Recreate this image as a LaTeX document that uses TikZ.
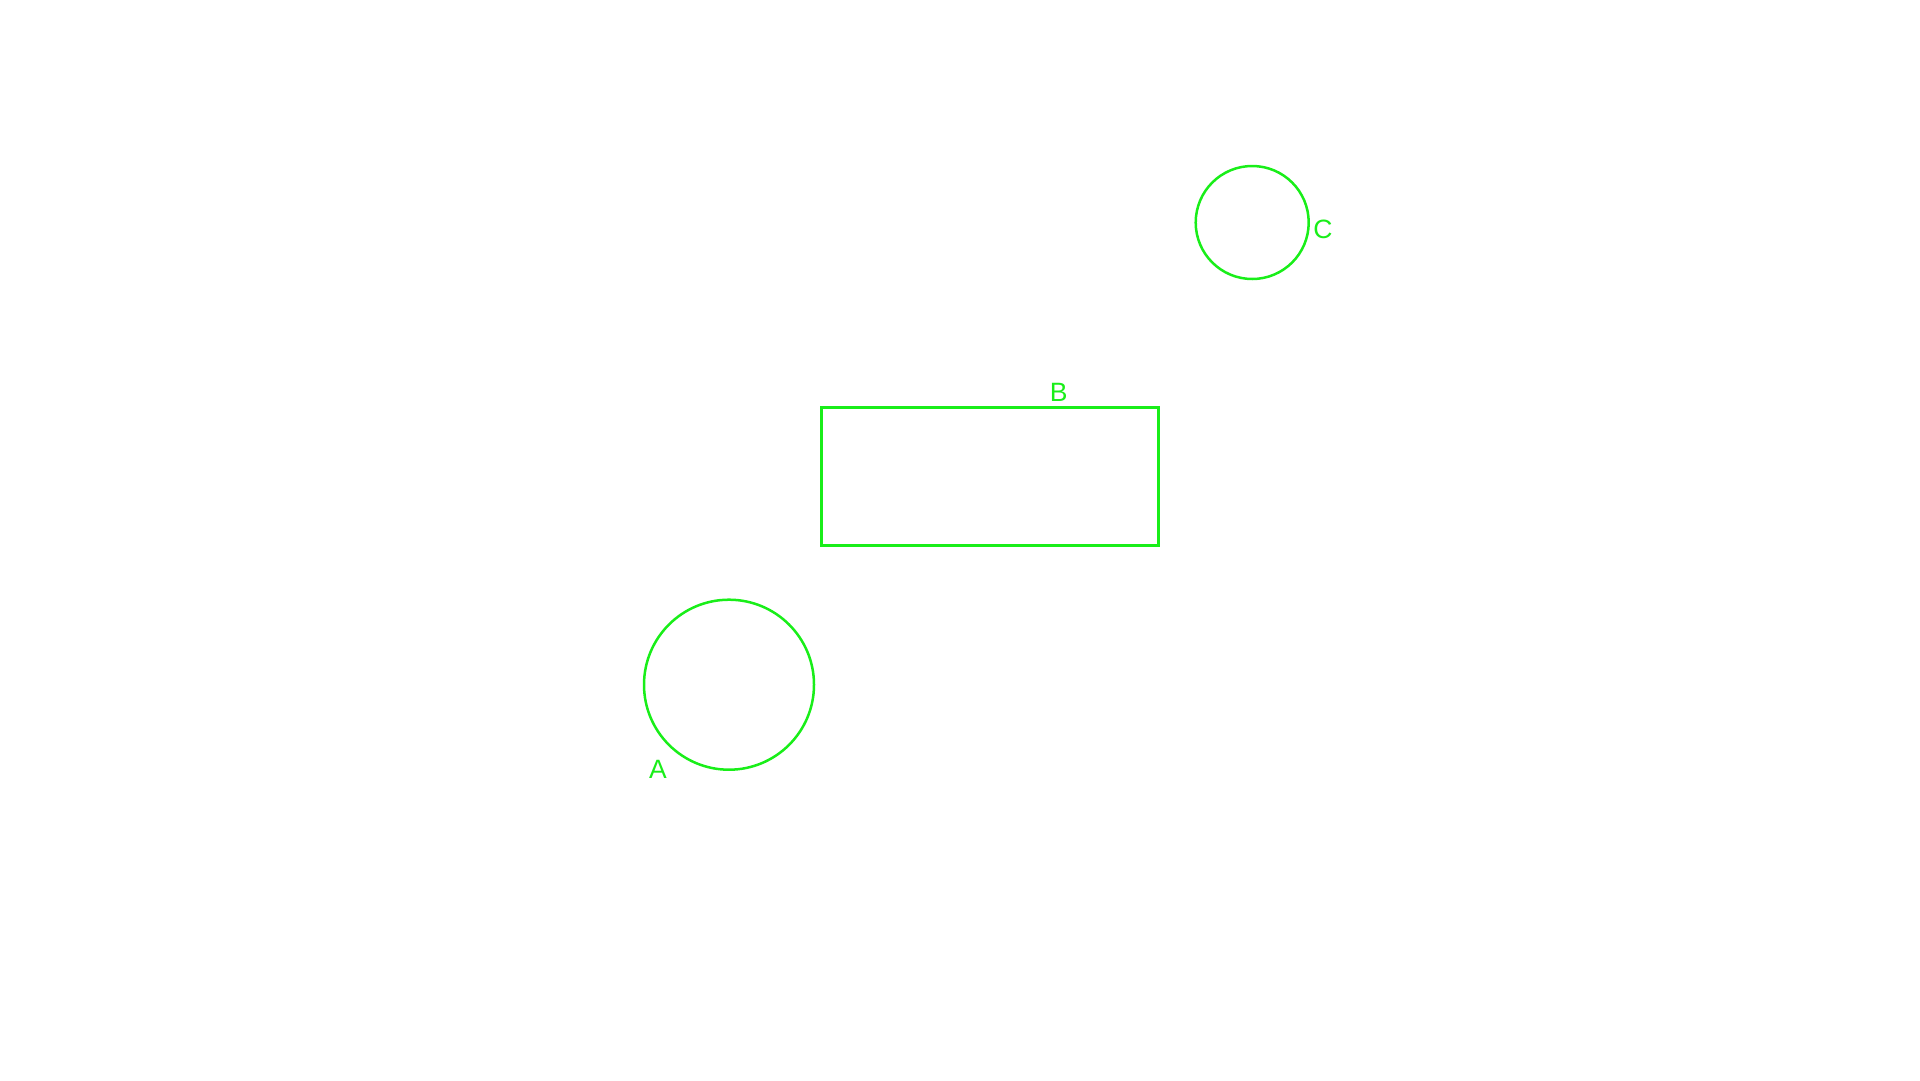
\documentclass[tikz,border=0pt]{standalone}
\usepackage{fontspec}
\setmainfont{Liberation Sans}
\definecolor{shapegreen}{RGB}{25,238,25}
\begin{document}
\begin{tikzpicture}[x=1pt,y=-1pt,
  shapeline/.style={draw=shapegreen,line width=2.5pt,inner sep=0pt,outer sep=0pt},
  roundshape/.style={shapeline,circle},
  boxshape/.style={shapeline,rectangle},
  lbl/.style={text=shapegreen,inner sep=0pt,font=\fontsize{26.5}{30}\selectfont}]
\useasboundingbox (0,0) rectangle (1920,1080);
\node[roundshape,minimum size=170pt] (A) at (729,684.7) {};
\node[boxshape,minimum width=336.6pt,minimum height=138pt] (B) at (990,476.7) {};
\node[roundshape,minimum size=113pt] (C) at (1252.2,222.5) {};
\node[lbl] (Alabel) at (658,769.5) {A};
\node[lbl] (Blabel) at (1058.7,392.3) {B};
\node[lbl] (Clabel) at (1323,229) {C};
\end{tikzpicture}
\end{document}
